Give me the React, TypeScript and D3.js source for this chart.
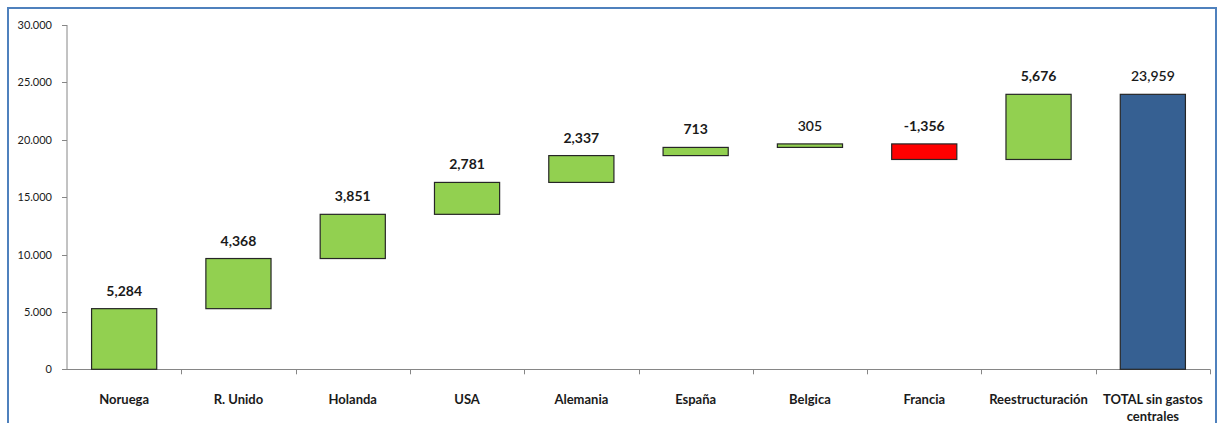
import React from "react";
import * as d3 from "d3";

const categories = ["Noruega", "R. Unido", "Holanda", "USA", "Alemania", "España", "Belgica", "Francia", "Reestructuración", "TOTAL sin gastos centrales"];
const deltas = [5284, 4368, 3851, 2781, 2337, 713, 305, -1356, 5676];
const totalValue = 23959;
const yTicks = [0, 5000, 10000, 15000, 20000, 25000, 30000];

const W = 1222, H = 423;
const margin = { left: 67, right: 12, top: 25, bottom: 54 };

type Bar = { cat: string; y0: number; y1: number; label: number; kind: "pos" | "neg" | "total" };

function buildBars(): Bar[] {
  const out: Bar[] = [];
  let acc = 0;
  deltas.forEach((d, i) => {
    const start = acc;
    acc += d;
    out.push({ cat: categories[i], y0: start, y1: acc, label: d, kind: d >= 0 ? "pos" : "neg" });
  });
  out.push({ cat: categories[categories.length - 1], y0: 0, y1: totalValue, label: totalValue, kind: "total" });
  return out;
}

const locale = d3.formatLocale({ decimal: ".", thousands: ",", grouping: [3], currency: ["", ""], minus: "-" });
const fmtLabel = locale.format(",d");
const fmtTick = (v: number) => (v === 0 ? "0" : fmtLabel(v).replace(/,/g, "."));

export default function App() {
  const bars = buildBars();
  const plotBottom = 369.3;
  const x = d3.scaleBand<string>().domain(categories).range([margin.left, 1210]).paddingInner(0.43).paddingOuter(0.215);
  const xb = d3.scaleBand<string>().domain(categories).range([margin.left, 1210]);
  const y = d3.scaleLinear().domain([0, 30000]).range([plotBottom, margin.top]);
  const colors = { pos: "#92D050", neg: "#FF0000", total: "#366092" };
  const fontFamily = "Lato, 'Open Sans', sans-serif";

  return (
    <svg width={W} height={H} style={{ position: "absolute", left: 0, top: 0, background: "#fff" }}>
      <rect x={8} y={8} width={1208} height={440} fill="#fff" stroke="#4F81BD" strokeWidth={2} />
      {/* y axis */}
      <line x1={margin.left} x2={margin.left} y1={y(30000)} y2={y(0)} stroke="#868686" strokeWidth={1} />
      {yTicks.map((t) => (
        <g key={t}>
          <line x1={margin.left - 5} x2={margin.left} y1={Math.round(y(t)) + 0.5} y2={Math.round(y(t)) + 0.5} stroke="#868686" />
          <text x={52} y={y(t) + 4} textAnchor="end" fontSize={11} fontFamily={fontFamily} fill="#1a1a1a">
            {fmtTick(t)}
          </text>
        </g>
      ))}
      {/* x axis */}
      <line x1={margin.left} x2={1210} y1={Math.round(y(0)) + 0.5} y2={Math.round(y(0)) + 0.5} stroke="#868686" />
      {categories.map((c, i) => (
        <line key={"t" + i} x1={Math.round(xb(c)! + xb.bandwidth()) + 0.5} x2={Math.round(xb(c)! + xb.bandwidth()) + 0.5} y1={y(0)} y2={y(0) + 5} stroke="#868686" />
      ))}
      {/* bars */}
      {bars.map((b) => {
        const top = y(Math.max(b.y0, b.y1));
        const bot = y(Math.min(b.y0, b.y1));
        const cx = x(b.cat)! + x.bandwidth() / 2;
        const bold = !(b.kind === "total" || b.label === 305);
        return (
          <g key={b.cat}>
            <rect x={x(b.cat)!} y={top} width={x.bandwidth()} height={Math.max(1, bot - top)} fill={colors[b.kind]} stroke="#262626" strokeWidth={1.2} />
            <text x={cx} y={top - 13} textAnchor="middle" fontSize={14} fontWeight={bold ? 700 : 600} fontFamily={fontFamily} fill="#1a1a1a">
              {fmtLabel(b.label)}
            </text>
          </g>
        );
      })}
      {/* category labels */}
      {categories.map((c) => {
        const cx = xb(c)! + xb.bandwidth() / 2;
        const lines = c === "TOTAL sin gastos centrales" ? ["TOTAL sin gastos", "centrales"] : [c];
        return (
          <text key={"l" + c} x={cx} y={404} textAnchor="middle" fontSize={13} fontWeight={700} fontFamily={fontFamily} fill="#1a1a1a">
            {lines.map((l, i) => (
              <tspan key={i} x={cx} dy={i === 0 ? 0 : 17}>{l}</tspan>
            ))}
          </text>
        );
      })}
    </svg>
  );
}
